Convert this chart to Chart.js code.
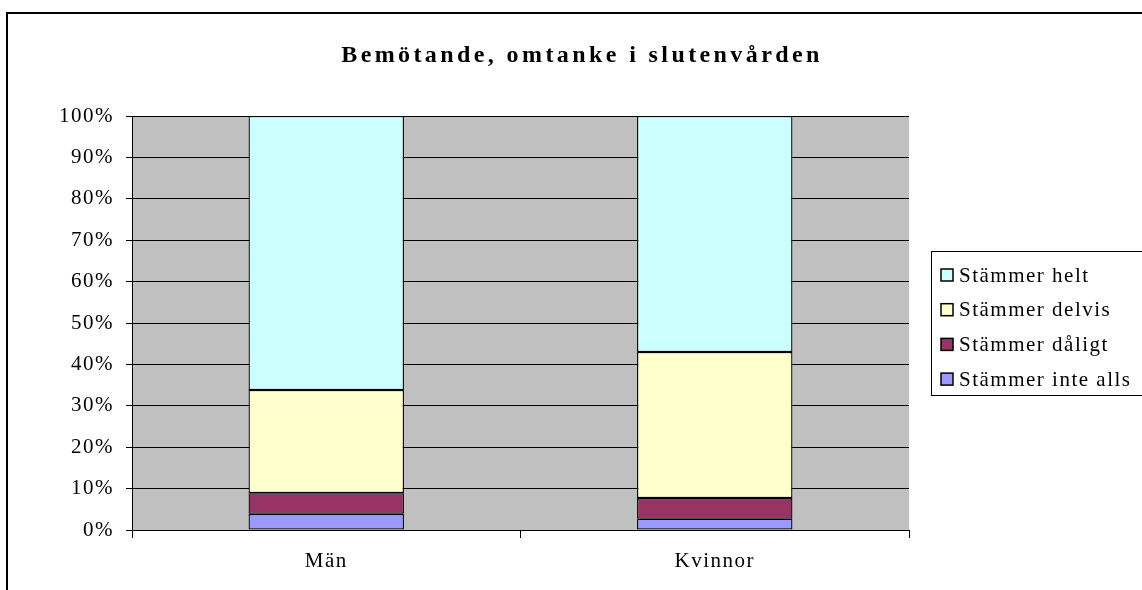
<!DOCTYPE html>
<html>
<head>
<meta charset="utf-8">
<script src="https://cdn.jsdelivr.net/npm/chart.js@4/dist/chart.umd.min.js"></script>
<style>
html,body{margin:0;padding:0;background:#fff;}
#wrap{position:relative;width:1142px;height:590px;}
</style>
</head>
<body>
<div id="wrap"><canvas id="c" width="1142" height="590"></canvas></div>
<script>
const titleText = "Bemötande, omtanke i slutenvården";
const categories = ["Män", "Kvinnor"];
const seriesNames = ["Stämmer inte alls", "Stämmer dåligt", "Stämmer delvis", "Stämmer helt"];
const seriesColors = ["#9999ff", "#993366", "#ffffcc", "#ccffff"];
const inteAlls = [3.9, 2.7];
const daligt = [5.0, 5.0];
const delvis = [24.9, 35.3];
const helt = [66.2, 57.0];
const seriesValues = [inteAlls, daligt, delvis, helt];
const yTicks = [0, 10, 20, 30, 40, 50, 60, 70, 80, 90, 100];

const FONT = "'Liberation Serif', 'DejaVu Serif', serif";
const SPACING = 1.5;

const datasets = seriesNames.map((n, i) => ({
  label: n,
  data: seriesValues[i],
  backgroundColor: seriesColors[i],
  borderColor: "#000",
  borderWidth: 1.3,
  borderSkipped: false,
  barPercentage: 0.4,
  categoryPercentage: 1.0
}));

const decor = {
  id: "decor",
  beforeDraw(chart) {
    const ctx = chart.ctx, a = chart.chartArea;
    ctx.save();
    ctx.fillStyle = "#fff";
    ctx.fillRect(0, 0, chart.width, chart.height);
    ctx.strokeStyle = "#000";
    ctx.lineWidth = 2;
    ctx.beginPath();
    ctx.moveTo(7, chart.height);
    ctx.lineTo(7, 13);
    ctx.lineTo(chart.width, 13);
    ctx.stroke();
    ctx.fillStyle = "#c0c0c0";
    ctx.fillRect(a.left, a.top, a.right - a.left, a.bottom - a.top);
    ctx.restore();
    ctx.letterSpacing = SPACING + "px";
  },
  afterDraw(chart) {
    const ctx = chart.ctx;
    ctx.save();
    ctx.fillStyle = "#000";
    ctx.font = "bold 24px " + FONT;
    ctx.letterSpacing = "3.4px";
    ctx.textAlign = "center";
    ctx.textBaseline = "alphabetic";
    ctx.fillText(titleText, 582, 62);
    // legend
    const lx = 931, ly = 251, lw = 220, lh = 144;
    ctx.letterSpacing = SPACING + "px";
    ctx.fillStyle = "#fff";
    ctx.fillRect(lx, ly, lw, lh);
    ctx.strokeStyle = "#000";
    ctx.lineWidth = 1;
    ctx.strokeRect(lx + 0.5, ly + 0.5, lw, lh);
    ctx.font = "21px " + FONT;
    ctx.textAlign = "left";
    ctx.textBaseline = "middle";
    const ds = chart.data.datasets;
    for (let k = 0; k < ds.length; k++) {
      const d = ds[ds.length - 1 - k];
      const y = 275 + k * 34.7;
      ctx.fillStyle = d.backgroundColor;
      ctx.fillRect(941, y - 6, 12, 12);
      ctx.strokeStyle = "#000";
      ctx.lineWidth = 1.5;
      ctx.strokeRect(941, y - 6, 12, 12);
      ctx.fillStyle = "#000";
      ctx.fillText(d.label, 959, y + 1);
    }
    ctx.restore();
  }
};

new Chart(document.getElementById("c"), {
  type: "bar",
  data: { labels: categories, datasets },
  options: {
    responsive: false,
    animation: false,
    events: [],
    layout: { padding: { left: 0, right: 233, top: 116, bottom: 0 } },
    plugins: { legend: { display: false }, title: { display: false }, tooltip: { enabled: false } },
    scales: {
      x: {
        stacked: true,
        offset: true,
        afterFit(s) { s.height = 60; },
        grid: { display: true, drawOnChartArea: false, drawTicks: true, tickLength: 8, color: "#000", offset: true },
        border: { display: true, color: "#000", width: 1 },
        ticks: { color: "#000", font: { family: FONT, size: 21 }, padding: 11 }
      },
      y: {
        stacked: true,
        min: 0, max: 100,
        afterFit(s) { s.width = 132; },
        afterBuildTicks(s) { s.ticks = yTicks.map(v => ({ value: v })); },
        grid: { color: "#000", lineWidth: 1, drawTicks: true, tickLength: 6 },
        border: { display: true, color: "#000", width: 1 },
        ticks: { color: "#000", font: { family: FONT, size: 21 }, padding: 12, callback: v => v + "%" }
      }
    }
  },
  plugins: [decor]
});
</script>
</body>
</html>
